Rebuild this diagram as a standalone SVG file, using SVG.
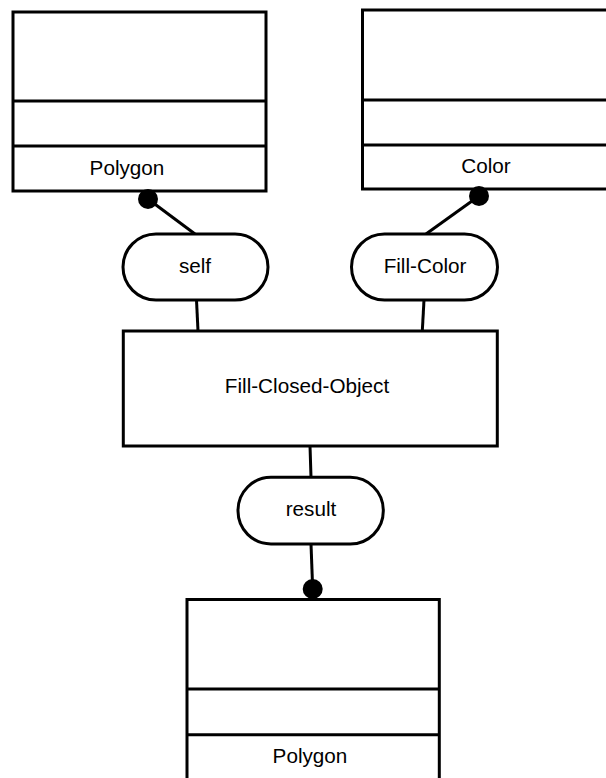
<svg xmlns="http://www.w3.org/2000/svg" width="606" height="778" viewBox="0 0 606 778">
<style>
.box{fill:#fff;stroke:#000;stroke-width:3}
.div{stroke:#000;stroke-width:3}
.pill{fill:#fff;stroke:#000;stroke-width:3}
.conn{stroke:#000;stroke-width:3;fill:none}
.dot{fill:#000}
text{font-family:"Liberation Sans",Arial,sans-serif;font-size:20.7px;fill:#000;text-anchor:middle}
</style>
<rect width="606" height="778" fill="#fff"/>
<g id="connectors">
<line class="conn" x1="148" y1="199" x2="195" y2="234"/>
<line class="conn" x1="479" y1="196" x2="426" y2="234"/>
<line class="conn" x1="196.5" y1="300" x2="198" y2="331"/>
<line class="conn" x1="424" y1="300" x2="422.3" y2="331"/>
<line class="conn" x1="310" y1="446" x2="311" y2="477"/>
<line class="conn" x1="311" y1="544" x2="312.7" y2="589"/>
</g>
<g id="polygon-top">
<rect class="box" x="13" y="12" width="253" height="179"/>
<line class="div" x1="13" y1="101" x2="266" y2="101"/>
<line class="div" x1="13" y1="146" x2="266" y2="146"/>
<text x="127" y="175">Polygon</text>
</g>
<g id="color-top">
<rect class="box" x="362.5" y="10" width="260" height="179"/>
<line class="div" x1="362.5" y1="100" x2="610" y2="100"/>
<line class="div" x1="362.5" y1="145" x2="610" y2="145"/>
<text x="486" y="173">Color</text>
</g>
<g id="self">
<rect class="pill" x="123" y="234" width="145" height="66" rx="33" ry="33"/>
<text x="195" y="273">self</text>
</g>
<g id="fill-color">
<rect class="pill" x="351.5" y="234" width="146" height="66" rx="33" ry="33"/>
<text x="425" y="273">Fill-Color</text>
</g>
<g id="fill-closed-object">
<rect class="box" x="123.3" y="331" width="374" height="115"/>
<text x="307" y="393">Fill-Closed-Object</text>
</g>
<g id="result">
<rect class="pill" x="238" y="477.3" width="145.3" height="66.7" rx="33" ry="33"/>
<text x="311" y="516">result</text>
</g>
<g id="polygon-bottom">
<rect class="box" x="187" y="599.5" width="252.3" height="190"/>
<line class="div" x1="187" y1="689" x2="439.3" y2="689"/>
<line class="div" x1="187" y1="734.7" x2="439.3" y2="734.7"/>
<text x="310" y="763">Polygon</text>
</g>
<g id="dots">
<circle class="dot" cx="148" cy="199" r="10"/>
<circle class="dot" cx="479" cy="196" r="10"/>
<circle class="dot" cx="312.7" cy="589" r="10"/>
</g>
</svg>
